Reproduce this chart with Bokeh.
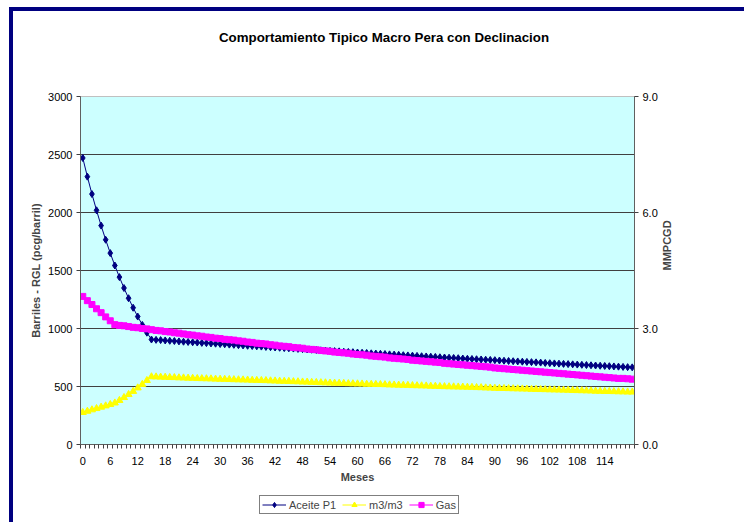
import math
from bokeh.plotting import figure
from bokeh.layouts import column
from bokeh.models import (Range1d, LinearAxis, FixedTicker, Legend, LegendItem,
                          NumeralTickFormatter, Label)
from bokeh.embed import file_html
from bokeh.resources import INLINE

meses = list(range(0, 121))

aceite = [2470, 2309, 2159, 2019, 1887, 1765, 1650, 1543, 1443, 1349, 1261, 1179, 1103, 1031, 964,
          905, 902, 900, 897, 894, 892,
          889, 886, 884, 881, 879, 876, 874, 871, 869, 866,
          864, 861, 859, 856, 854, 851, 849, 846, 844, 841,
          839, 836, 834, 831, 829, 827, 824, 822, 819, 817,
          815, 812, 810, 807, 805, 803, 800, 798, 796, 793,
          791, 789, 786, 784, 782, 780, 777, 775, 773, 770,
          768, 766, 764, 761, 759, 757, 755, 752, 750, 748,
          746, 744, 741, 739, 737, 735, 733, 731, 729, 727,
          724, 722, 720, 718, 716, 714, 712, 710, 708, 706,
          703, 701, 699, 697, 695, 693, 691, 689, 687, 685,
          683, 681, 679, 677, 675, 673, 671, 669, 667, 665]

m3m3 = [276, 287, 299, 310, 322, 333, 345, 358, 380, 405, 431, 458, 488, 518, 552, 584,
        583, 581, 580, 578, 577,
        575, 574, 572, 571, 569, 568, 567, 566, 564, 563,
        562, 561, 559, 558, 557, 556, 554, 553, 552, 551,
        549, 548, 546, 545, 544, 542, 541, 539, 538, 536,
        535, 533, 532, 530, 529, 528, 527, 525, 524, 523,
        522, 520, 519, 518, 517, 516, 514, 513, 512, 511,
        510, 508, 507, 506, 505, 503, 502, 500, 499, 498,
        497, 496, 495, 494, 493, 491, 490, 488, 487, 485,
        484, 483, 482, 481, 480, 479, 478, 476, 475, 474,
        473, 472, 471, 470, 469, 468, 466, 465, 464, 463,
        462, 460, 459, 458, 457, 456, 455, 454, 453, 452]

gas = [3.83, 3.72, 3.62, 3.51, 3.41, 3.30, 3.20,
       3.10, 3.08, 3.07, 3.05, 3.03, 3.02, 3.00, 2.99, 2.97,
       2.95, 2.94, 2.92, 2.91, 2.89, 2.88, 2.86, 2.84, 2.83, 2.81,
       2.80, 2.78, 2.77, 2.75, 2.74, 2.72, 2.71, 2.70, 2.68, 2.67,
       2.65, 2.64, 2.62, 2.61, 2.60, 2.58, 2.57, 2.55, 2.54, 2.53,
       2.51, 2.50, 2.49, 2.47, 2.46, 2.45, 2.43, 2.42, 2.41, 2.39,
       2.38, 2.37, 2.36, 2.34, 2.33, 2.32, 2.31, 2.29, 2.28, 2.27,
       2.26, 2.24, 2.23, 2.22, 2.21, 2.20, 2.18, 2.17, 2.16, 2.15,
       2.14, 2.13, 2.12, 2.10, 2.09, 2.08, 2.07, 2.06, 2.05, 2.04,
       2.03, 2.02, 2.01, 2.00, 1.98, 1.97, 1.96, 1.95, 1.94, 1.93,
       1.92, 1.91, 1.90, 1.89, 1.88, 1.87, 1.86, 1.85, 1.84, 1.83,
       1.82, 1.81, 1.80, 1.79, 1.78, 1.77, 1.76, 1.75, 1.74, 1.73,
       1.72, 1.71, 1.71, 1.70, 1.69]

x_ticks = list(range(0, 115, 6))
y_ticks = [0, 500, 1000, 1500, 2000, 2500, 3000]
y2_ticks = [0, 3, 6, 9]

titulo = "Comportamiento Tipico Macro Pera con Declinacion"
FONT = "Liberation Sans"
NAVY = "#000080"
C_ACE, C_M3, C_GAS = NAVY, "#FFFF00", "#FF00FF"

# ---- title strip ----
p0 = figure(width=731, height=45, output_backend="svg", toolbar_location=None,
            x_axis_type=None, y_axis_type=None,
            min_border_left=0, min_border_right=0, min_border_top=0, min_border_bottom=0,
            background_fill_color="white", border_fill_color="white", outline_line_color=None)
p0.add_layout(Label(x=303.5, y=19, x_units="screen", y_units="screen", text=titulo,
                    text_font=FONT, text_font_size="13.3px", text_font_style="bold",
                    text_align="center", text_baseline="middle", text_color="black"))

# ---- main chart ----
p = figure(frame_width=554, frame_height=348, output_backend="svg", toolbar_location=None,
           x_range=Range1d(-0.5, 120.5), y_range=Range1d(0, 3000),
           min_border_left=67, min_border_right=110, min_border_top=40, min_border_bottom=50,
           background_fill_color="#CCFFFF", border_fill_color="white",
           outline_line_color="#c0c0c0")
p.extra_y_ranges = {"gas": Range1d(0, 9)}

p.xgrid.visible = False
p.ygrid.ticker = FixedTicker(ticks=y_ticks)
p.ygrid.grid_line_color = "#404040"
p.ygrid.grid_line_width = 1

xa = p.xaxis[0]
xa.ticker = FixedTicker(ticks=x_ticks, minor_ticks=[i - 0.5 for i in range(0, 122)])
xa.major_tick_out = 0
xa.major_tick_in = 0
xa.minor_tick_out = 4
xa.minor_tick_in = 0
xa.minor_tick_line_color = "#404040"
xa.axis_line_color = "#606060"
xa.major_label_standoff = 8
xa.major_label_text_font = FONT
xa.major_label_text_font_size = "11px"
xa.major_label_text_color = "black"
xa.axis_label = "Meses"
xa.axis_label_text_font = FONT
xa.axis_label_text_font_size = "11px"
xa.axis_label_text_font_style = "bold"
xa.axis_label_standoff = 3

ya = p.yaxis[0]
ya.ticker = FixedTicker(ticks=y_ticks)
ya.major_tick_out = 4
ya.major_tick_in = 0
ya.minor_tick_line_color = None
ya.axis_line_color = "#606060"
ya.major_tick_line_color = "#404040"
ya.major_label_standoff = 4
ya.major_label_text_font = FONT
ya.major_label_text_font_size = "11px"
ya.major_label_text_color = "black"
ya.axis_label = "Barriles - RGL (pcg/barril)"
ya.axis_label_text_font = FONT
ya.axis_label_text_font_size = "11px"
ya.axis_label_text_font_style = "bold"
ya.axis_label_standoff = 3

ra = LinearAxis(y_range_name="gas", ticker=FixedTicker(ticks=y2_ticks),
                formatter=NumeralTickFormatter(format="0.0"))
ra.major_tick_out = 4
ra.major_tick_in = 0
ra.minor_tick_line_color = None
ra.axis_line_color = "#606060"
ra.major_tick_line_color = "#404040"
ra.major_label_standoff = 4
ra.major_label_text_font = FONT
ra.major_label_text_font_size = "11px"
ra.major_label_text_color = "black"
ra.axis_label = "MMPCGD"
ra.axis_label_text_font = FONT
ra.axis_label_text_font_size = "11px"
ra.axis_label_text_font_style = "bold"
ra.axis_label_standoff = 6
ra.axis_label_orientation = math.pi / 2
p.add_layout(ra, "right")


def draw_series(fig, y_range_name="default"):
    rl1 = fig.line(meses, aceite, line_color=C_ACE, line_width=1)
    rs1 = fig.scatter(meses, aceite, marker="diamond", size=7, fill_color=C_ACE, line_color=C_ACE)
    rl2 = fig.line(meses, m3m3, line_color=C_M3, line_width=1)
    rs2 = fig.scatter(meses, m3m3, marker="triangle", size=7, fill_color=C_M3, line_color=C_M3)
    rl3 = fig.line(meses, gas, line_color=C_GAS, line_width=1, y_range_name=y_range_name)
    rs3 = fig.scatter(meses, gas, marker="square", size=6, fill_color=C_GAS, line_color=C_GAS,
                      y_range_name=y_range_name)
    return (rl1, rs1), (rl2, rs2), (rl3, rs3)


draw_series(p, "gas")

# ---- legend strip: same series, kept out of its (empty) view, only the keys show ----
p2 = figure(width=731, height=28, output_backend="svg", toolbar_location=None,
            x_axis_type=None, y_axis_type=None,
            x_range=Range1d(0, 1), y_range=Range1d(-2, -1),
            min_border_left=0, min_border_right=0, min_border_top=0, min_border_bottom=0,
            background_fill_color="white", border_fill_color="white", outline_line_color=None)
k1, k2, k3 = draw_series(p2)

legend = Legend(items=[LegendItem(label="Aceite P1", renderers=list(k1)),
                       LegendItem(label="m3/m3", renderers=list(k2)),
                       LegendItem(label="Gas", renderers=list(k3))],
                orientation="horizontal", location=(179, 8),
                label_text_font=FONT, label_text_font_size="11px",
                glyph_width=24, glyph_height=13, label_height=13, label_standoff=3,
                spacing=6, padding=2, margin=0,
                border_line_color="black", border_line_width=1,
                background_fill_color="white", background_fill_alpha=1.0)
p2.add_layout(legend, "center")

layout = column(p0, p, p2, spacing=0,
                styles={"margin-top": "7px", "margin-left": "9px",
                        "border-top": "4px solid #000080", "border-left": "4px solid #000080"})

open("out.html", "w").write(file_html(layout, INLINE))
